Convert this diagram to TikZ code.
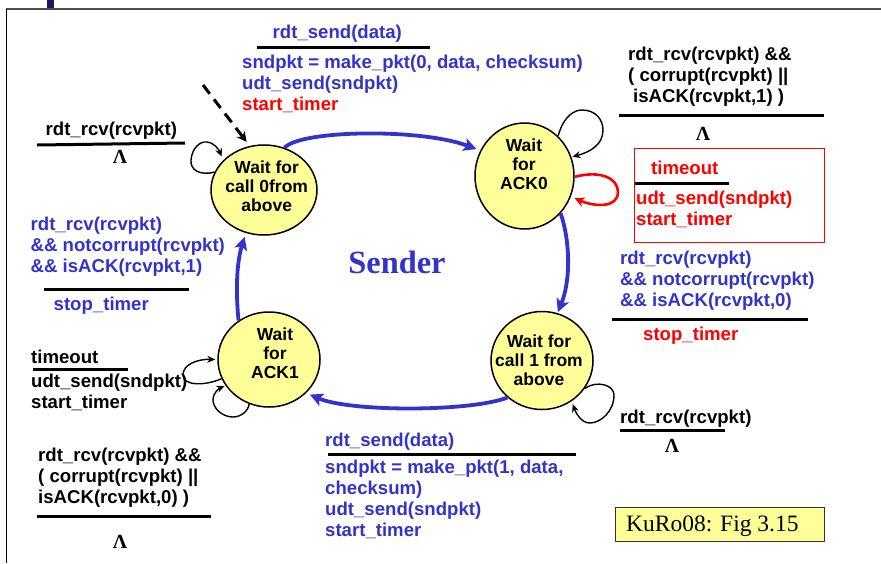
\documentclass[tikz,border=0pt]{standalone}
\usepackage{fontspec}
\setmainfont{Liberation Sans}
\newfontfamily\serifx{Liberation Serif}
\usetikzlibrary{arrows.meta,shapes.geometric}
\definecolor{fsmblue}{RGB}{51,51,204}
\definecolor{fsmred}{RGB}{255,0,0}
\definecolor{fsmyellow}{RGB}{255,255,153}
\newcommand\stxt[3]{\hbox to 0pt{\hss\kern#1pt\raisebox{#2pt}[0pt][0pt]{\parbox[b]{110pt}{\centering\fontsize{17.5}{19}\selectfont\bfseries #3}}\kern-#1pt\hss}}
\tikzset{
 fsmstate/.style={draw=black,line width=1.5pt,fill=fsmyellow,ellipse,inner sep=0pt},
 lbl/.style={anchor=base west,inner sep=0pt,align=left,font=\fontsize{18.6}{21}\selectfont\bfseries},
 lam/.style={inner sep=0pt,font=\fontsize{20}{22}\selectfont\serifx\bfseries},
 rule/.style={draw=black,line width=3pt},
 bluearc/.style={draw=fsmblue,line width=3.8pt,-{Stealth[length=13pt,width=13pt,inset=3pt]}},
 selfloop/.style={draw=black,line width=1.4pt,-{Stealth[length=8pt,width=7pt]}},
 redloop/.style={draw=fsmred,line width=2.6pt,-{Stealth[length=10pt,width=10pt]}},
}
\begin{document}
\begin{tikzpicture}[x=1pt,y=-1pt]
\useasboundingbox (0,0) rectangle (881,563);
\fill[white] (0,0) rectangle (881,563);
% frame
\fill[fsmblue!50!black] (47,0) rectangle (54,8);
\draw[draw=black!70,line width=1.5pt] (6,9) -- (881,9);
\draw[draw=black,line width=1.2pt] (6.5,9) -- (6.5,563);
% states
\node[fsmstate,minimum width=106pt,minimum height=90pt] (s0) at (264,190) {\stxt{2.7}{-21}{Wait for\\call 0from\\above}};
\node[fsmstate,minimum width=99pt,minimum height=106pt] (a0) at (524.5,176) {\stxt{-0.5}{-13}{Wait\\for\\ACK0}};
\node[fsmstate,minimum width=102pt,minimum height=98pt] (s1) at (542,360.5) {\stxt{-3}{-24.5}{Wait for\\call 1 from\\above}};
\node[fsmstate,minimum width=102pt,minimum height=95pt] (a1) at (269,359.5) {\stxt{6}{-18.5}{Wait\\for\\ACK1}};
% main transitions
\draw[bluearc,shorten >=4pt] (s0.64) .. controls (300,130) and (420,128) .. (a0.150);
\draw[bluearc,shorten >=1pt] (a0.-46) .. controls (570,240) and (571,280) .. (s1.72);
\draw[bluearc,shorten >=4pt] (s1.-133) .. controls (470,412) and (350,412) .. (a1.-42);
\draw[bluearc,shorten >=4pt] (a1.128) .. controls (236,295) and (236,265) .. (s0.-113);
% initial
\coordinate (init) at (203,85);
\draw[draw=black,line width=3pt,dash pattern=on 11pt off 7pt,-{Stealth[length=10pt,width=10pt]},shorten >=5pt] (init) -- (s0.108);
% self loops
\draw[selfloop,shorten >=4pt] (s0.160) .. controls (200,176) and (190,170) .. (191,160) .. controls (192,148) and (200,141) .. (207,142) .. controls (215,143) and (219,150) .. (s0.144);
\draw[selfloop,shorten >=1pt] (a0.50) .. controls (564,115) and (575,110) .. (582,110) .. controls (596,110) and (603,120) .. (603,130) .. controls (603,145) and (590,152) .. (a0.22);
\draw[redloop,shorten >=4pt] (a0.-1) .. controls (600,170) and (618,178) .. (618,192) .. controls (618,208) and (595,207) .. (a0.-24);
\draw[selfloop,shorten >=3pt] (s1.-33) .. controls (597,380) and (614,385) .. (614,395) .. controls (614,412) and (600,423) .. (590,423) .. controls (581,423) and (576,413) .. (s1.-54);
\draw[selfloop,shorten >=2pt] (a1.202) .. controls (205,386) and (183,386) .. (183,375) .. controls (183,364) and (198,359) .. (a1.180);
\draw[selfloop,shorten >=1pt] (a1.246) .. controls (248,412) and (240,417) .. (233,417) .. controls (222,417) and (213,408) .. (213,400) .. controls (213,392) and (220,388) .. (a1.211);
% top centre label
\node[lbl,text=fsmblue] (t1) at (272.5,38) {rdt\_send(data)};
\coordinate (r1a) at (257,47); \coordinate (r1b) at (430,47);
\draw[rule] (r1a) -- (r1b);
\node[lbl,text=fsmblue] (t2) at (242,110) {sndpkt = make\_pkt(0, data, checksum)\\udt\_send(sndpkt)\\\textcolor{fsmred}{start\_timer}};
% top right
\node[lbl] (t3) at (628,102) {rdt\_rcv(rcvpkt) \&\&\\( corrupt(rcvpkt) ||\\\hspace{5pt}isACK(rcvpkt,1) )};
\coordinate (r2a) at (619,115); \coordinate (r2b) at (824,115);
\draw[rule] (r2a) -- (r2b);
\node[lam] (l1) at (703,134) {Λ};
% red box
\node[draw=fsmred,line width=1pt,minimum width=189.5pt,minimum height=94pt,inner sep=0pt] (rb) at (729.25,195) {};
\node[lbl,text=fsmred] (t4) at (651,174) {timeout};
\coordinate (r3a) at (635,183); \coordinate (r3b) at (729,183);
\draw[rule] (r3a) -- (r3b);
\node[lbl,text=fsmred] (t5) at (636,225) {udt\_send(sndpkt)\\start\_timer};
% right middle
\node[lbl,text=fsmblue] (t6) at (620,306) {rdt\_rcv(rcvpkt)\\\&\& notcorrupt(rcvpkt)\\\&\& isACK(rcvpkt,0)};
\coordinate (r4a) at (612,319); \coordinate (r4b) at (808,319);
\draw[rule] (r4a) -- (r4b);
\node[lbl,text=fsmred] (t7) at (643,340) {stop\_timer};
% right lower
\node[lbl] (t8) at (620,423) {rdt\_rcv(rcvpkt)};
\coordinate (r5a) at (620,430); \coordinate (r5b) at (725,430);
\draw[rule] (r5a) -- (r5b);
\node[lam] (l2) at (672,446) {Λ};
% caption
\node[draw=black!80,line width=1pt,fill=fsmyellow,minimum width=209pt,minimum height=34pt,inner sep=0pt] (kb) at (719.5,524) {};
\node[anchor=base west,inner sep=0pt,font=\fontsize{23.5}{26}\selectfont\serifx] (kt) at (626,531) {KuRo08: Fig 3.15};
% sender
\node[anchor=base,inner sep=0pt,text=fsmblue,font=\fontsize{32.4}{36}\selectfont\serifx\bfseries] (snd) at (397,273) {Sender};
% left top
\node[lbl] (t9) at (45.5,135) {rdt\_rcv(rcvpkt)};
\coordinate (r6a) at (37,145); \coordinate (r6b) at (185,143);
\draw[rule] (r6a) -- (r6b);
\node[lam] (l3) at (120,157) {Λ};
% left blue
\node[lbl,text=fsmblue] (t10) at (30.5,272) {rdt\_rcv(rcvpkt)\\\&\& notcorrupt(rcvpkt)\\\&\& isACK(rcvpkt,1)};
\coordinate (r7a) at (44,289.5); \coordinate (r7b) at (189,289.5);
\draw[rule] (r7a) -- (r7b);
\node[lbl,text=fsmblue] (t11) at (53.5,310) {stop\_timer};
% left timeout
\node[lbl] (t12) at (31,363) {timeout};
\coordinate (r8a) at (33,369); \coordinate (r8b) at (128,369);
\draw[rule] (r8a) -- (r8b);
\node[lbl] (t13) at (31,408) {udt\_send(sndpkt)\\start\_timer};
% left bottom
\node[lbl] (t14) at (38,503) {rdt\_rcv(rcvpkt) \&\&\\( corrupt(rcvpkt) ||\\isACK(rcvpkt,0) )};
\coordinate (r9a) at (37,516); \coordinate (r9b) at (211,516);
\draw[rule] (r9a) -- (r9b);
\node[lam] (l4) at (120,542) {Λ};
% bottom centre
\node[lbl,text=fsmblue] (t15) at (325,446) {rdt\_send(data)};
\coordinate (r10a) at (328,454.5); \coordinate (r10b) at (576,454.5);
\draw[rule] (r10a) -- (r10b);
\node[lbl,text=fsmblue] (t16) at (325,536) {sndpkt = make\_pkt(1, data,\\checksum)\\udt\_send(sndpkt)\\start\_timer};
\end{tikzpicture}
\end{document}
